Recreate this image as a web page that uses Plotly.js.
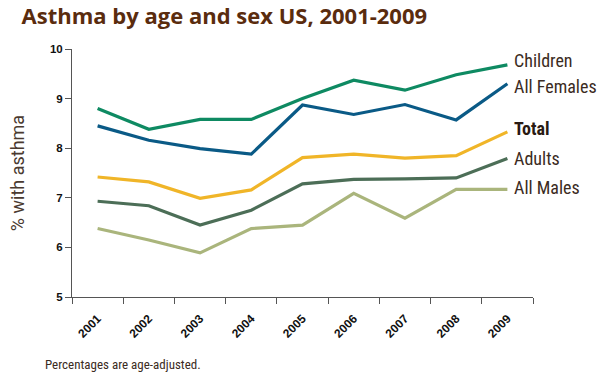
<!DOCTYPE html>
<html>
<head>
<meta charset="utf-8">
<script src="https://cdn.plot.ly/plotly-3.0.1.min.js"></script>
<style>html,body{margin:0;padding:0;background:#fff;}#chart{width:600px;height:373px;}</style>
</head>
<body>
<div id="chart"></div>
<script>
const years = ['2001','2002','2003','2004','2005','2006','2007','2008','2009'];
const children   = [8.80, 8.38, 8.58, 8.58, 9.00, 9.37, 9.17, 9.48, 9.68];
const allFemales = [8.45, 8.16, 7.99, 7.88, 8.87, 8.68, 8.88, 8.57, 9.30];
const total      = [7.42, 7.32, 6.99, 7.16, 7.81, 7.88, 7.80, 7.85, 8.33];
const adults     = [6.93, 6.84, 6.45, 6.75, 7.28, 7.37, 7.38, 7.40, 7.79];
const allMales   = [6.38, 6.15, 5.89, 6.38, 6.45, 7.09, 6.59, 7.17, 7.17];
const seriesNames = ['Children','All Females','Total','Adults','All Males'];

const seriesData = [children, allFemales, total, adults, allMales];
const colors = ['#0E8A62', '#0A5A86', '#F0B528', '#4C6E57', '#AAB57C'];
const labelShift = [4, -3, 3, 0, 2];
const condensed = '"Roboto Condensed", "Liberation Sans Narrow", "Arial Narrow", sans-serif';

const traces = seriesData.map((vals, i) => ({
  x: years, y: vals, type: 'scatter', mode: 'lines',
  name: seriesNames[i],
  line: {color: colors[i], width: 3.2},
  hoverinfo: 'x+y+name'
}));

const annotations = seriesNames.map((n, i) => ({
  xref: 'paper', yref: 'y', x: 0.955, y: seriesData[i][seriesData[i].length - 1],
  yshift: labelShift[i],
  text: i === 2 ? '<b>' + n + '</b>' : n,
  showarrow: false, xanchor: 'left', yanchor: 'middle',
  font: {family: condensed, size: 18, color: i === 2 ? '#2a1a12' : '#3b2b22'}
}));

annotations.push({
  xref: 'paper', yref: 'paper', x: -0.062, y: -0.235,
  xanchor: 'left', yanchor: 'top', showarrow: false,
  text: 'Percentages are age-adjusted.',
  font: {family: condensed, size: 13, color: '#3b2b22'}
});

const layout = {
  width: 600, height: 373,
  margin: {l: 72, r: 67, t: 49, b: 76},
  paper_bgcolor: '#fff', plot_bgcolor: '#fff',
  showlegend: false,
  title: {
    text: '<b>Asthma by age and sex US, 2001-2009</b>',
    x: 0.036, xanchor: 'left', y: 0.955, yanchor: 'middle',
    font: {family: '"Open Sans", Roboto, sans-serif', size: 22, color: '#5A2C0E'}
  },
  xaxis: {
    type: 'category', range: [-0.5, 8.5],
    tickson: 'boundaries', ticks: 'outside', ticklen: 6, tickcolor: '#555', tickwidth: 1,
    ticklabelstandoff: 9,
    showline: true, linecolor: '#555', linewidth: 1,
    showgrid: false, zeroline: false,
    tickangle: -45,
    tickfont: {family: 'Arial, "Liberation Sans", sans-serif', size: 12, color: '#111', weight: 'bold'},
    fixedrange: true
  },
  yaxis: {
    range: [5, 10], dtick: 1, tick0: 5,
    ticks: 'outside', ticklen: 6, tickcolor: '#555', tickwidth: 1,
    showline: true, linecolor: '#555', linewidth: 1,
    showgrid: false, zeroline: false,
    tickfont: {family: 'Arial, "Liberation Sans", sans-serif', size: 11.5, color: '#111', weight: 'bold'},
    title: {text: '% with asthma', standoff: 20, font: {family: 'Roboto, "Liberation Sans", sans-serif', size: 18, color: '#4a3a30'}},
    fixedrange: true
  },
  annotations: annotations
};

Plotly.newPlot('chart', traces, layout, {displayModeBar: false, staticPlot: true});
</script>
</body>
</html>
